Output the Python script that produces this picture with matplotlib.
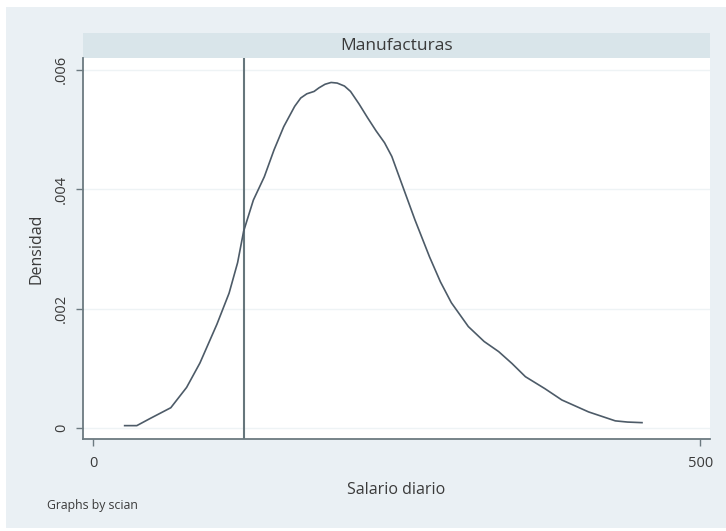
import matplotlib.pyplot as plt
from matplotlib.patches import Rectangle

# Kernel density of daily wage, manufacturing
salario = [26, 36, 47, 64, 77, 88, 102, 112, 119, 124, 132, 141, 149, 157,
           166, 171, 176, 182, 186, 191, 196, 201, 207, 212, 219, 226, 233,
           240, 246, 251, 265, 277, 286, 295, 309, 322, 334, 345, 356, 372,
           386, 408, 430, 440, 452]
densidad = [0.00004, 0.00004, 0.00016, 0.00034, 0.00068, 0.00109, 0.00174,
            0.00226, 0.00277, 0.0033, 0.00382, 0.00421, 0.00466, 0.00505,
            0.00539, 0.00553, 0.0056, 0.00564, 0.0057, 0.00576, 0.00579,
            0.00578, 0.00573, 0.00564, 0.00543, 0.0052, 0.00498, 0.00478,
            0.00455, 0.00427, 0.00349, 0.00287, 0.00245, 0.0021, 0.0017,
            0.00145, 0.00128, 0.00108, 0.00086, 0.00066, 0.00047, 0.00027,
            0.00012, 0.0001, 0.00009]
linea_vertical = 124
xticks = [0, 500]
yticks = [0, 0.002, 0.004, 0.006]
ytick_labels = ["0", ".002", ".004", ".006"]

plt.rcParams["font.family"] = ["Open Sans", "DejaVu Sans"]

bg = "#eaf0f4"
axis_col = "#6c7a80"
text_col = "#3a3a3a"

fig = plt.figure(figsize=(7.26, 5.31), dpi=100, facecolor="white")
fig.patches.append(Rectangle((6 / 726, 3 / 531), 720 / 726, 521 / 531,
                             transform=fig.transFigure, facecolor=bg,
                             edgecolor="none", zorder=-2))
# header strip with the panel title
fig.patches.append(Rectangle((83 / 726, (531 - 58) / 531), 627 / 726, 25 / 531,
                             transform=fig.transFigure, facecolor="#d9e5ea",
                             edgecolor="none", zorder=-1))

ax = fig.add_axes([83 / 726, 92 / 531, 627 / 726, 381 / 531])
ax.set_zorder(2)
ax.set_facecolor("white")

ax.plot(salario, densidad, color="#4d5b68", lw=1.2, zorder=3)
ax.axvline(linea_vertical, color="#66767c", lw=1.5, zorder=2)

ax.set_xlim(-8.3, 508)
ax.set_ylim(-0.000184, 0.0062)
ax.set_xticks(xticks)
ax.set_yticks(yticks)
ax.set_yticklabels(ytick_labels, rotation=90, va="center")
ax.grid(axis="y", color="#eef3f5", lw=1.0)
ax.set_axisbelow(True)

for s in ["top", "right"]:
    ax.spines[s].set_visible(False)
for s in ["left", "bottom"]:
    ax.spines[s].set_color(axis_col)
    ax.spines[s].set_linewidth(1.3)
ax.tick_params(colors=axis_col, labelcolor=text_col, labelsize=10.5,
               length=5, width=1)
ax.tick_params(axis="y", pad=5)
ax.tick_params(axis="x", pad=7)

ax.set_xlabel("Salario diario", fontsize=11.5, color=text_col, labelpad=8)
ax.set_ylabel("Densidad", fontsize=11.5, color=text_col, labelpad=7)

fig.text((83 + 627 / 2) / 726, (531 - 45.5) / 531, "Manufacturas",
         ha="center", va="center", fontsize=12.5, color=text_col)

fig.text(47 / 726, (531 - 506) / 531, "Graphs by scian", ha="left",
         va="center", fontsize=8.8, color=text_col)

fig.savefig("out.png", dpi=100, facecolor="white")
